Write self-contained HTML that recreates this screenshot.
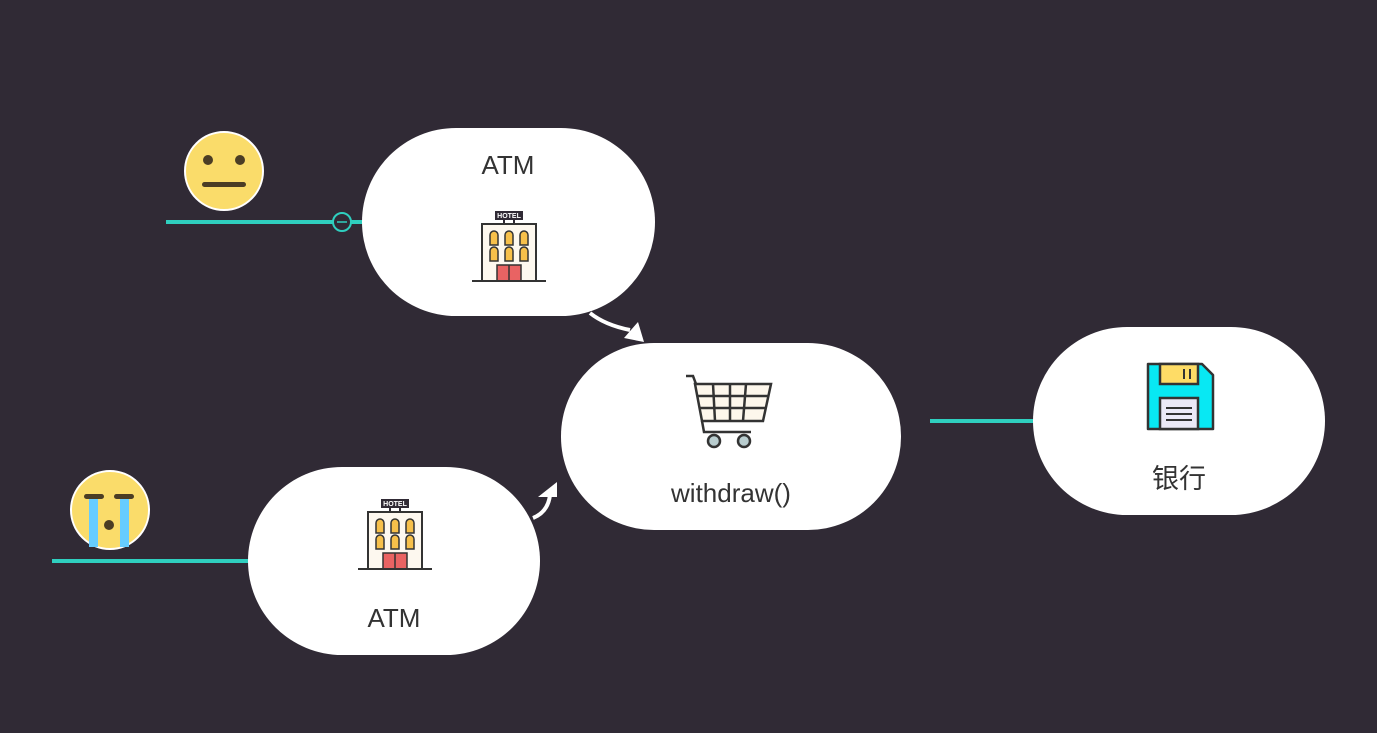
<!DOCTYPE html>
<html><head><meta charset="utf-8"><style>
html,body{margin:0;padding:0;background:#302a35;}
svg{display:block}
text{font-family:"Liberation Sans","Noto Sans CJK SC",sans-serif;fill:#333}
</style></head><body>
<svg width="1377" height="733" viewBox="0 0 1377 733" xmlns="http://www.w3.org/2000/svg">
<defs>
<g id="hotel">
 <rect x="-14" y="-37" width="28" height="9" fill="#302a35"/>
 <text x="0" y="-30" font-size="7" font-weight="bold" text-anchor="middle" style="fill:#fff">HOTEL</text>
 <line x1="-5" y1="-28" x2="-5" y2="-24" stroke="#302a35" stroke-width="2"/>
 <line x1="5" y1="-28" x2="5" y2="-24" stroke="#302a35" stroke-width="2"/>
 <rect x="-27" y="-24" width="54" height="57" fill="#fdf8ef" stroke="#333" stroke-width="2"/>
 <g fill="#f7c04a" stroke="#333" stroke-width="1.5">
  <path d="M-19,-3 v-10 a4,4 0 0 1 8,0 v10z"/><path d="M-4,-3 v-10 a4,4 0 0 1 8,0 v10z"/><path d="M11,-3 v-10 a4,4 0 0 1 8,0 v10z"/>
  <path d="M-19,13 v-10 a4,4 0 0 1 8,0 v10z"/><path d="M-4,13 v-10 a4,4 0 0 1 8,0 v10z"/><path d="M11,13 v-10 a4,4 0 0 1 8,0 v10z"/>
 </g>
 <rect x="-12" y="17" width="24" height="16" fill="#e96363" stroke="#333" stroke-width="1.5"/>
 <line x1="0" y1="17" x2="0" y2="33" stroke="#333" stroke-width="1.5"/>
 <line x1="-37" y1="33" x2="37" y2="33" stroke="#333" stroke-width="2"/>
</g>
</defs>
<!-- teal lines -->
<line x1="166" y1="222" x2="364" y2="222" stroke="#2fcfbf" stroke-width="4"/>
<circle cx="342" cy="222" r="9" fill="#302a35" stroke="#2fcfbf" stroke-width="2"/>
<line x1="337" y1="222" x2="347" y2="222" stroke="#2fcfbf" stroke-width="1.5"/>
<line x1="52" y1="561" x2="250" y2="561" stroke="#2fcfbf" stroke-width="4"/>
<line x1="930" y1="421" x2="1035" y2="421" stroke="#2fcfbf" stroke-width="4"/>
<!-- arrows -->
<path d="M590,313 Q605,325 630,330" fill="none" stroke="#fff" stroke-width="4"/>
<polygon points="644,342 624,338 638,322" fill="#fff"/>
<path d="M533,518 Q548,512 550,495" fill="none" stroke="#fff" stroke-width="4"/>
<polygon points="557,482 538,497 557,497" fill="#fff"/>
<!-- nodes -->
<rect x="362" y="128" width="293" height="188" rx="94" fill="#fff"/>
<rect x="561" y="343" width="340" height="187" rx="93" fill="#fff"/>
<rect x="1033" y="327" width="292" height="188" rx="94" fill="#fff"/>
<rect x="248" y="467" width="292" height="188" rx="94" fill="#fff"/>
<!-- texts -->
<text x="508" y="174" font-size="26" text-anchor="middle">ATM</text>
<use href="#hotel" x="509" y="248"/>
<use href="#hotel" x="395" y="536"/>
<text x="394" y="627" font-size="26" text-anchor="middle">ATM</text>
<text x="731" y="502" font-size="26" text-anchor="middle">withdraw()</text>
<text x="1179" y="488" font-size="27" text-anchor="middle">银行</text>
<!-- cart -->
<g stroke="#333" stroke-width="2.5" fill="none">
 <path d="M686,376 h7 l3,8" />
 <path d="M695,384 h76 l-8,37 h-61z" fill="#fdf7ec"/>
 <path d="M698,396 h70 M700,408 h66"/>
 <path d="M713,384 l2,37 M730,384 v37 M746,384 l-3,37"/>
 <path d="M702,421 l2,11 h47"/>
 <circle cx="714" cy="441" r="6" fill="#b9cdcf"/><circle cx="744" cy="441" r="6" fill="#b9cdcf"/>
</g>
<!-- floppy -->
<path d="M1148,364 h54 l11,11 v54 h-65z" fill="#08e8f3" stroke="#333" stroke-width="2.5" stroke-linejoin="round"/>
<rect x="1160" y="364" width="38" height="20" fill="#fedc66" stroke="#333" stroke-width="2.5"/>
<line x1="1184" y1="369" x2="1184" y2="379" stroke="#333" stroke-width="2"/>
<line x1="1190" y1="369" x2="1190" y2="379" stroke="#333" stroke-width="2"/>
<rect x="1160" y="398" width="38" height="31" fill="#ebe9f7" stroke="#333" stroke-width="2.5"/>
<g stroke="#333" stroke-width="2"><line x1="1166" y1="408" x2="1192" y2="408"/><line x1="1166" y1="414" x2="1192" y2="414"/><line x1="1166" y1="420" x2="1192" y2="420"/></g>
<!-- emojis -->
<circle cx="224" cy="171" r="39" fill="#fadc6a" stroke="#fff" stroke-width="2"/>
<circle cx="208" cy="160" r="5" fill="#4b3d24"/><circle cx="240" cy="160" r="5" fill="#4b3d24"/>
<rect x="202" y="182" width="44" height="5" rx="2.5" fill="#4b3d24"/>
<circle cx="110" cy="510" r="39" fill="#fadc6a" stroke="#fff" stroke-width="2"/>
<rect x="84" y="494" width="20" height="5" rx="2.5" fill="#4b3d24"/><rect x="114" y="494" width="20" height="5" rx="2.5" fill="#4b3d24"/>
<rect x="89" y="499" width="9" height="48" fill="#66ccff"/><rect x="120" y="499" width="9" height="48" fill="#66ccff"/>
<circle cx="109" cy="525" r="5" fill="#4b3d24"/>
</svg>
</body></html>
